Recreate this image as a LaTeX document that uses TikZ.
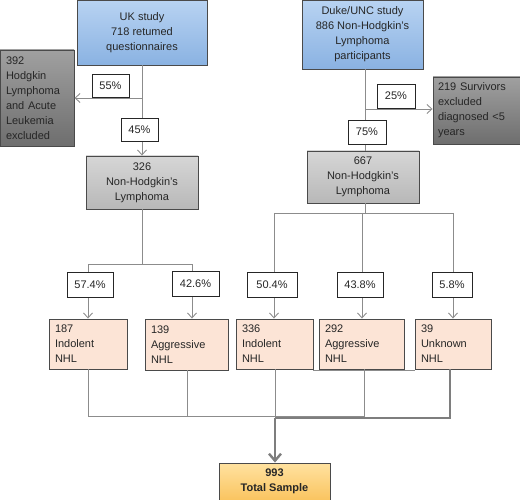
\documentclass[tikz,border=0pt]{standalone}
\usepackage{fontspec}
\setmainfont{Liberation Sans}
\usetikzlibrary{arrows.meta}
\definecolor{lnc}{HTML}{8C8C8C}
\definecolor{bdr}{HTML}{4A4A4A}
\definecolor{bluetop}{HTML}{B8D3F2}
\definecolor{bluebot}{HTML}{8AB2E2}
\begin{document}
\begin{tikzpicture}[x=1pt,y=-1pt,
  font=\fontsize{11}{15}\selectfont, text=black!85,
  box/.style={draw=bdr, line width=0.9pt, inner sep=0pt, align=center},
  bluebox/.style={box, top color=bluetop, bottom color=bluebot},
  darkbox/.style={box, top color={rgb,255:red,160;green,160;blue,160}, bottom color={rgb,255:red,110;green,110;blue,110}},
  graybox/.style={box, top color={rgb,255:red,214;green,214;blue,214}, bottom color={rgb,255:red,184;green,184;blue,184}},
  peachbox/.style={box, fill={rgb,255:red,252;green,228;blue,214}},
  totbox/.style={box, top color={rgb,255:red,255;green,226;blue,160}, bottom color={rgb,255:red,250;green,196;blue,96}, font=\fontsize{11}{15}\selectfont\bfseries},
  pct/.style={draw=black!85, line width=0.8pt, fill=white, inner sep=0pt},
  ln/.style={draw=lnc, line width=0.9pt},
  arr/.style={ln, -{Straight Barb[length=5pt,width=9pt,line width=0.9pt]}},
  thick line/.style={draw=lnc!90!black, line width=2.4pt},
]
\useasboundingbox (0,0) rectangle (520,500);

% main boxes
\node[bluebox, minimum width=130pt, minimum height=65pt] (uk) at (142,32.5) {UK study\\718 retumed\\questionnaires};
\node[darkbox, minimum width=74pt, minimum height=96pt, text width=62pt, align=left] (hl) at (37,98) {392\\Hodgkin\\Lymphoma\\and Acute\\Leukemia\\excluded};
\node[graybox, minimum width=112pt, minimum height=53pt] (n326) at (142,182.5) {326\\Non-Hodgkin's\\Lymphoma};

\node[bluebox, minimum width=121pt, minimum height=69pt] (duke) at (362.5,34.5) {Duke/UNC study\\886 Non-Hodgkin's\\Lymphoma\\participants};
\node[darkbox, minimum width=87pt, minimum height=67pt, text width=77pt, align=left] (surv) at (476.5,110.5) {219 Survivors\\excluded\\diagnosed <5\\years};
\node[graybox, minimum width=112pt, minimum height=52pt] (n667) at (363,177) {667\\Non-Hodgkin's\\Lymphoma};

% junction coordinates
\coordinate (ukj) at (142,98);
\coordinate (dkj) at (365,109);
\coordinate (lj) at (142,264);
\coordinate (la) at (88,264);
\coordinate (lb) at (192,264);
\coordinate (rj) at (365,213);
\coordinate (ra) at (274,213);
\coordinate (rb) at (362,213);
\coordinate (rc) at (453,213);

% second row boxes
\node[peachbox, minimum width=78pt, minimum height=50pt, text width=66pt, align=left] (b187) at (88,344) {187\\Indolent\\NHL};
\node[peachbox, minimum width=83pt, minimum height=51pt, text width=71pt, align=left] (b139) at (186.5,344.5) {139\\Aggressive\\NHL};
\node[peachbox, minimum width=77pt, minimum height=50pt, text width=65pt, align=left] (b336) at (274.5,344) {336\\Indolent\\NHL};
\node[peachbox, minimum width=85pt, minimum height=50pt, text width=73pt, align=left] (b292) at (361.5,344) {292\\Aggressive\\NHL};
\node[peachbox, minimum width=76pt, minimum height=50pt, text width=64pt, align=left] (b39) at (453,344) {39\\Unknown\\NHL};

\node[totbox, minimum width=111pt, minimum height=37pt] (tot) at (274.5,481.5) {993\\Total Sample};

% connectors
\draw[arr] (uk.south) -- (n326.north);
\draw[arr] (ukj) -- (hl.east |- ukj);
\draw[ln] (duke.south -| dkj) -- (n667.north -| dkj);
\draw[arr] (dkj) -- (surv.west |- dkj);

\draw[ln] (n326.south) -- (lj);
\draw[ln] (la) -- (lb);
\draw[arr] (la) -- (b187.north -| la);
\draw[arr] (lb) -- (b139.north -| lb);

\draw[ln] (n667.south -| rj) -- (rj);
\draw[ln] (ra) -- (rc);
\draw[arr] (ra) -- (b336.north -| ra);
\draw[arr] (rb) -- (b292.north -| rb);
\draw[arr] (rc) -- (b39.north -| rc);

% bottom merge
\coordinate (m1) at (88,416);
\coordinate (m2) at (187,416);
\coordinate (m3) at (275,416);
\coordinate (m4) at (364,416);
\coordinate (t1) at (450,418);
\coordinate (t2) at (275,418);
\draw[ln] (b187.south -| m1) -- (m1) -- (m4) -- (b292.south -| m4);
\draw[ln] (b139.south -| m2) -- (m2);
\draw[ln] (b336.south -| m3) -- (m3);
\draw[ln, line width=0.7pt] ([yshift=-1pt]b336.south east) -- ([yshift=-1pt]b39.south west);
\draw[thick line] (b39.south -| t1) -- (t1) -- (t2);
\draw[thick line, -{Straight Barb[length=7pt,width=12pt,line width=2.4pt]}] (t2) -- (tot.north -| t2);

% percent labels
\node[pct, minimum width=37pt, minimum height=23pt] (p55) at (110.5,85.5) {55\%};
\node[pct, minimum width=37pt, minimum height=23pt] (p45) at (139.5,129.5) {45\%};
\node[pct, minimum width=38pt, minimum height=24pt] (p25) at (396,96) {25\%};
\node[pct, minimum width=38pt, minimum height=24pt] (p75) at (367,132) {75\%};
\node[pct, minimum width=46pt, minimum height=25pt] (p574) at (90,284.5) {57.4\%};
\node[pct, minimum width=47pt, minimum height=25pt] (p426) at (195.5,283.5) {42.6\%};
\node[pct, minimum width=50pt, minimum height=25pt] (p504) at (272,284.5) {50.4\%};
\node[pct, minimum width=46pt, minimum height=25pt] (p438) at (360,284.5) {43.8\%};
\node[pct, minimum width=40pt, minimum height=25pt] (p58) at (452,284.5) {5.8\%};
\end{tikzpicture}
\end{document}
